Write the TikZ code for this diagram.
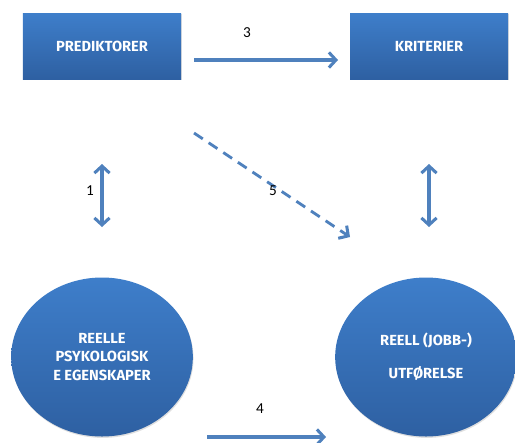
\documentclass[tikz,border=0pt]{standalone}
\usepackage{fontspec}
\setmainfont{Carlito}
\setsansfont{Fira Sans}
\usetikzlibrary{shapes.geometric,arrows.meta,shadows}

\definecolor{boxtop}{RGB}{62,126,202}
\definecolor{boxbot}{RGB}{46,96,162}
\definecolor{linkblue}{RGB}{79,129,189}

\begin{document}
\begin{tikzpicture}[
	x=0.03cm, y=-0.03cm,
	font=\small,
	rect/.style={rectangle, top color=boxtop, bottom color=boxbot, draw=none, minimum width=4.74cm, minimum height=1.98cm, align=center, text=white, font=\sffamily\bfseries\fontsize{12.5}{15}\selectfont, drop shadow={opacity=0.25, shadow xshift=0.6pt, shadow yshift=-1.2pt}},
	oval/.style={ellipse, top color=boxtop, bottom color=boxbot, draw=none, minimum width=5.45cm, minimum height=4.77cm, inner sep=0pt, align=center, text=white, font=\sffamily\bfseries\fontsize{12.5}{15}\selectfont, drop shadow={opacity=0.25, shadow xshift=0.6pt, shadow yshift=-1.2pt}},
	link/.style={draw=linkblue, line width=2.6pt, -{Straight Barb[length=6pt, width=13pt, line width=2.6pt]}},
	both/.style={link, {Straight Barb[length=6pt, width=13pt, line width=2.6pt]}-{Straight Barb[length=6pt, width=13pt, line width=2.6pt]}},
	num/.style={font=\fontsize{13}{15}\selectfont, inner sep=1pt}
]
\useasboundingbox (0,0) rectangle (515,442);

% --- Top: measures ---
\node[rect] (pred) at (102,46) {PREDIKTORER};
\node[rect] (krit) at (429,46) {KRITERIER};

% --- Bottom: constructs ---
\node[oval] (psyk) at (102,357) {REELLE\\[1pt]PSYKOLOGISK\\[1pt]E EGENSKAPER};
\node[oval] (utf) at (426,357) {REELL (JOBB-)\\[13pt]UTFØRELSE};

% --- Arrow ends ---
\coordinate (p3) at (194,60);
\coordinate (k3) at (338,60);
\coordinate (p1) at (102,164);
\coordinate (e1) at (102,227);
\coordinate (k2) at (429,164);
\coordinate (u2) at (429,227);
\coordinate (p5) at (194,133);
\coordinate (u5) at (350,237);
\coordinate (e4) at (207,437);
\coordinate (u4) at (326,437);

% --- Edges ---
\draw[link] (p3) -- (k3);
\draw[both] (p1) -- (e1);
\draw[both] (k2) -- (u2);
\draw[link, dashed, dash pattern=on 9pt off 6pt, line width=2.4pt] (p5) -- (u5);
\draw[link] (e4) -- (u4);

% --- Labels ---
\node[num] (l3) at (247,33) {3};
\node[num] (l1) at (90,191) {1};
\node[num] (l5) at (273,191) {5};
\node[num] (l4) at (260,409) {4};

\end{tikzpicture}
\end{document}
